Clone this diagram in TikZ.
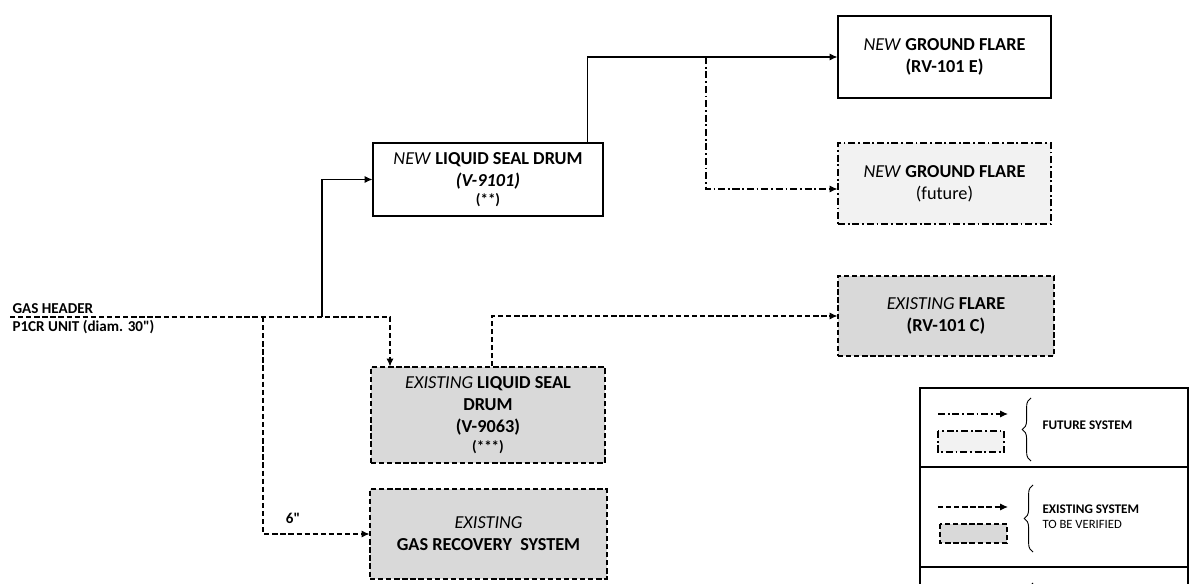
\documentclass[tikz,border=0pt]{standalone}
\usepackage{fontspec}
\setmainfont{Carlito}
\usetikzlibrary{calc,arrows.meta,decorations.pathreplacing}
\definecolor{light_grey}{HTML}{F2F2F2}
\definecolor{mid_grey}{HTML}{D9D9D9}

\begin{document}
\begin{tikzpicture}[x=0.02cm,y=-0.02cm,>={Latex[length=4.5pt,width=4pt]},line width=0.6pt,
    box/.style={draw,align=center,inner sep=0pt,font=\fontsize{10.4}{12.5}\selectfont},
    newbox/.style={box,fill=white},
    futbox/.style={box,fill=light_grey,dash pattern=on 4pt off 1.6pt on 1pt off 1.6pt},
    exbox/.style={box,fill=mid_grey,dash pattern=on 3pt off 1.6pt},
    newline/.style={},
    futline/.style={dash pattern=on 4pt off 1.6pt on 1pt off 1.6pt},
    exline/.style={dash pattern=on 3pt off 1.6pt},
    lbl/.style={font=\fontsize{8.6}{10}\selectfont\bfseries,inner sep=0pt},
    legtxt/.style={font=\fontsize{7.5}{9}\selectfont,anchor=west,inner sep=0pt,align=left},
    legbrace/.style={decorate,decoration={brace,amplitude=5pt},line width=0.5pt}]

    \useasboundingbox (0,0) rectangle (1191,584);
    \clip (0,0) rectangle (1191,584);

    % Boites
    \node[newbox,minimum width=230*0.02cm,minimum height=73*0.02cm] (nlsd) at (488,179.5)
        {\textit{NEW} \textbf{LIQUID SEAL DRUM}\\\textbf{\textit{(V-9101)}}\\[-2pt]{\fontsize{8.5}{9}\selectfont\bfseries(**)}};
    \node[newbox,minimum width=213*0.02cm,minimum height=82*0.02cm] (rvE) at (944.5,57)
        {\textit{NEW} \textbf{GROUND FLARE}\\\textbf{(RV-101 E)}};
    \node[futbox,minimum width=213*0.02cm,minimum height=81*0.02cm] (rvfut) at (944.5,183.5)
        {\textit{NEW} \textbf{GROUND FLARE}\\(future)};
    \node[exbox,minimum width=216*0.02cm,minimum height=80*0.02cm] (rvC) at (946,316)
        {\textit{EXISTING} \textbf{FLARE}\\\textbf{(RV-101 C)}};
    \node[exbox,minimum width=234*0.02cm,minimum height=96*0.02cm] (exlsd) at (488,415)
        {\textit{EXISTING} \textbf{LIQUID SEAL}\\\textbf{DRUM}\\\textbf{(V-9063)}\\[-2pt]{\fontsize{8.5}{9}\selectfont\bfseries(***)}};
    \node[exbox,minimum width=237*0.02cm,minimum height=90*0.02cm] (gasrec) at (488.5,534)
        {\textit{EXISTING}\\\textbf{GAS RECOVERY\ \ SYSTEM}};

    % Collecteur
    \coordinate (hdr) at (10,317);
    \coordinate (T1) at (263,317);
    \coordinate (T2) at (322,317);
    \coordinate (T3) at (390,317);
    \coordinate (T4) at (706,57);

    \node[lbl,anchor=south west] (hdrA) at (12,314.5) {GAS HEADER};
    \node[lbl,anchor=north west] (hdrB) at (12,319.5) {P1CR UNIT (diam. 30\textquotedbl)};

    % Liaisons
    \draw[exline,->] (hdr) -- (T3) -- (T3 |- exlsd.north);
    \draw[newline,->] (T2) |- (nlsd.west);
    \draw[exline,->] (T1) |- (gasrec.west);
    \node[lbl] (six) at (293,518) {6\textquotedbl};
    \draw[exline,->] ($(exlsd.north)+(4,0)$) |- (rvC.west);
    \draw[newline,->] ($(nlsd.north east)+(-16,0)$) |- (rvE.west);
    \draw[futline,->] (T4) |- ($(rvfut.west)+(0,5.5)$);

    % Legende
    \draw (920,388) rectangle (1188,640);
    \draw (920,467) -- (1188,467);
    \draw (920,567) -- (1188,567);

    \coordinate (L1a) at (938,414);
    \coordinate (L1b) at (1008,414);
    \draw[futline,->] (L1a) -- (L1b);
    \draw[futline,fill=light_grey] (938,431) rectangle (1004,452);
    \draw[legbrace] (1031,461) -- (1031,398);
    \node[legtxt,font=\fontsize{7.5}{9}\selectfont\bfseries] (leg1) at (1042,425) {FUTURE SYSTEM};

    \coordinate (L2a) at (938,507);
    \coordinate (L2b) at (1008,507);
    \draw[exline,->] (L2a) -- (L2b);
    \draw[exline,fill=mid_grey] (940,524) rectangle (1007,543);
    \draw[legbrace] (1033,552) -- (1033,485);
    \node[legtxt] (leg2) at (1042,517) {\textbf{EXISTING SYSTEM}\\[-0.5pt]{\fontsize{7.2}{8}\selectfont TO BE VERIFIED}};

    \draw[legbrace] (1033,650) -- (1033,583);
\end{tikzpicture}
\end{document}
